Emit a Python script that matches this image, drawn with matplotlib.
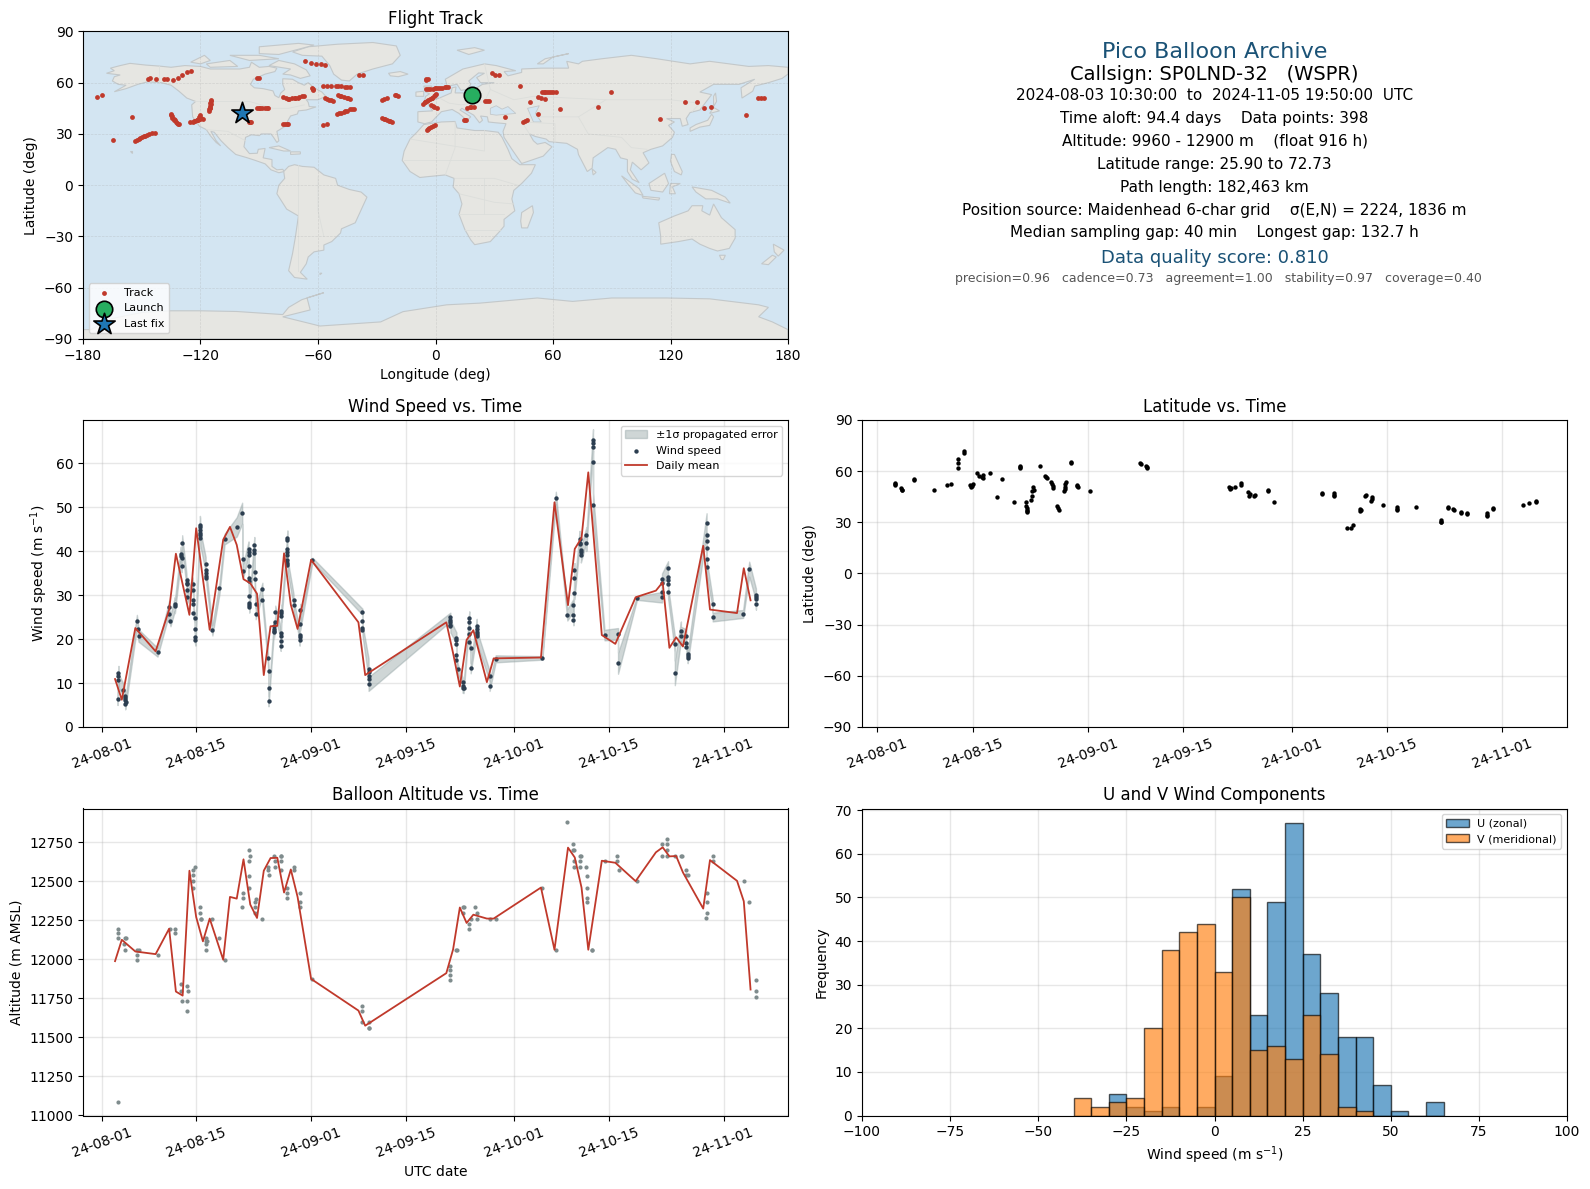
import numpy as np
import pandas as pd
import matplotlib
matplotlib.use("Agg")
import matplotlib.pyplot as plt
import matplotlib.dates as mdates

# ============================
# Data (days are counted from 2024-08-01)
# ============================
start_date = pd.Timestamp("2024-08-01")

track_lon = [-173, -170.4, -154.9, -164.8, -153.3, -151.6, -149.8, -148.1, -146.2, -143.4,
             -147, -145.8, -142.7, -138.7, -137.1, -134, -131.7, -129.4, -127, -124.9,
             -135.2, -134.3, -133.1, -132, -131, -125.4, -123, -121.2, -118.8, -120.5,
             -114.6, -114.8, -115.3, -115.8, -95.4, -94, -91.2, -88.4, -85.3, -91.2, -90,
             -77.8, -74.8, -71.5, -67.3, -63, -62.6, -77.8, -75.5,
             -66.6, -63.7, -60.9, -58.3, -56.2, -39.1, -36.8,
             -57.2, -53.2, -48.5, -43.8, -56.2, -54.4, -52.5, -49.7, -46.9, -43.8,
             -57.2, -55.5, -50.1, -46.9, -43.8, -41.5, -27.4, -25, -22.2, -27.4, -25, -20.8, -19,
             -5.1, -4, -5.1, -0.5, 3.5, 6.6, -6.3, -4, -1.6, 0.3, -2.3, 0.7, -4.4, -2.1, -0.5,
             14.8, 15.7, 16, 19.5, 25.3, 27.2, 28.6, 32.4, 35.4, 43.1, 44.8, 46.9, 48.1, 52.3,
             52.3, 55.8, 54.2, 58.2, 61.7, 63.5, 82.8, 89.6, 114.6, 127.3, 133.4, 137.1, 140.7,
             158.5, 164.8, 167.6,
             -152.5, -150.7, -149, -147.2, -144.8, -134.8, -133.7, -132.5, -131.5, -135, -133.5,
             -124, -122, -120, -119.8, -122, -120.9, -123.5, -121, -114.7, -115, -115.5, -115, -115.2,
             -90, -87, -89.5, -86, -76.5, -73.2, -69.5, -75.5, -72, -70, -68, -76.9, -76,
             -55.2, -51, -46, -50, -45, -55.3, -53.4, -48.3, -45.3, -49, -44.8,
             -48.5, -45.3, -42.6, -49.3, -46, -26, -23.6, -26.5, -23, -26.2, -20,
             -4.6, -3, -1.5, 1.5, 5, -4, 0.5, 2.5, 5.5, -5.2, -3, -0.7, -5.5, -4.5, -2, -0.5, -1.5, -1,
             -3.2, -1.3, -3.8, 15.3, 17.7, 18, 26.2, 30.5, 45.8, 53.9, 56, 60, 55.2, 57, 59, -94.5, -62.8, 166]
track_lat = [51.9, 52.5, 40.2, 26.7, 26.1, 27.1, 28.1, 29, 30, 30.8,
             62.4, 63, 62.4, 62.3, 61.9, 61.7, 62.8, 64.4, 66, 67.1,
             41.5, 39.6, 38, 36.5, 35.7, 37, 37.4, 38.4, 39, 41.2,
             50.1, 47.8, 45.4, 43.3, 37.2, 37.2, 44.9, 44.9, 44.9, 63, 63,
             51.7, 50.7, 51.1, 52.1, 56.6, 55.6, 36.1, 36.1,
             72.4, 71.8, 71.2, 70.7, 70.3, 64.2, 64.2,
             58.3, 58.1, 57.8, 57.2, 51.3, 50.1, 49.4, 52.5, 51.7, 50.5,
             35.1, 35.7, 41.9, 43.1, 44.3, 44.7, 39.4, 38, 37, 50.1, 51.3, 52.9, 52.3,
             61.5, 62.4, 56.4, 56.6, 57, 57.6, 47.8, 49.7, 51.3, 53.3, 46.8, 45.3, 32.2, 34.1, 35.5,
             38.4, 38, 45.3, 46, 49, 49, 65.4, 64.2, 40.2, 58.3, 37.2, 38, 48.8, 41.5,
             51.7, 50.7, 54.8, 54.8, 54.8, 44.3, 46, 54.8, 39, 48.4, 48.4, 45.4, 46,
             41.3, 51.3, 51.3,
             26.6, 27.6, 28.5, 29.5, 30.4, 40.5, 38.8, 37.2, 36, 41, 38.4,
             37.2, 37.9, 38.7, 39.4, 38, 40, 37.5, 39, 49, 46.6, 44.3, 48, 45,
             44.9, 44.9, 44.9, 44.9, 51.2, 50.9, 51.6, 50.6, 50.9, 51.3, 52, 36.1, 36.1,
             58.2, 57.9, 57.5, 58, 57.2, 50.7, 49.7, 52.1, 51.1, 52.3, 50.9,
             42.5, 43.7, 44.5, 42.2, 43.5, 38.7, 37.5, 39, 37.3, 50.7, 52.6,
             62, 56.5, 56.5, 56.8, 57.3, 56.5, 56.7, 56.9, 57.4, 48.7, 50.5, 52.3, 48.5, 49.5, 51, 52.5, 46.3, 46,
             33.2, 34.8, 32.8, 38.2, 45.7, 45.5, 49, 64.7, 37.6, 51.2, 54.8, 54.8, 54.8, 54.8, 54.8, 37.2, 56.1, 51.3]
launch_lon, launch_lat = 18.4, 52.6
last_lon, last_lat = -98.7, 42.4

# wind speed samples
wind_days = [2.37, 2.5, 2.5, 2.5, 3.25, 3.45, 3.5, 3.5, 3.55, 3.5,
             5.23, 5.37, 5.47, 8.28, 10.0, 10.0, 10.2, 10.85, 10.85,
             11.73, 11.73, 11.93, 11.85, 11.85, 12.57, 12.57, 12.57, 12.7, 12.7,
             13.46, 13.6, 13.6, 13.6, 13.6, 13.8, 13.8, 13.8, 13.9,
             14.55, 14.6, 14.6, 14.6, 14.6, 14.6, 15.4, 15.4, 15.4, 15.5, 15.5,
             16.4, 17.45, 18.2, 20.0, 20.8, 20.86, 20.95,
             21.75, 21.75, 21.75, 21.75, 21.75, 21.75, 21.85, 21.85, 21.85, 21.85,
             22.6, 22.6, 22.6, 22.65, 22.65, 22.8, 22.8, 23.8, 23.8,
             24.6, 24.7, 24.7, 24.7, 25.5, 25.5, 25.5, 25.5, 25.7, 25.7,
             26.5, 26.5, 26.5, 26.5, 26.6, 26.6, 26.6,
             27.5, 27.5, 27.5, 27.5, 27.5, 27.5, 27.5, 27.5, 28.4, 28.4,
             29.4, 29.4, 29.3, 29.3, 29.3, 31.2, 38.6, 38.6, 38.6, 38.6,
             39.5, 39.5, 39.5, 39.5, 39.5,
             51.6, 51.6, 51.6, 51.6, 51.6, 52.5, 52.5, 52.5, 52.5, 52.5, 52.7,
             53.4, 53.4, 53.4, 53.55, 54.4, 54.4, 54.4, 54.4, 54.4, 54.6, 54.6,
             55.5, 55.5, 55.5, 55.5, 55.5, 57.4, 57.4, 58.3, 65.2, 67.2, 68.9,
             69.8, 69.8, 69.8, 69.95, 69.95, 69.95, 70.7, 70.7, 70.7, 70.9, 70.9, 70.9,
             71.7, 71.7, 72.7, 72.7, 72.7, 72.7, 72.7, 74.4, 76.4, 76.4, 79.2,
             82.9, 82.9, 82.9, 82.9, 83.8, 83.8, 83.8, 83.8, 83.8, 84.8, 84.8,
             85.7, 85.7, 86.5, 86.5, 86.5, 86.7, 86.7, 86.7,
             89.5, 89.5, 89.5, 89.5, 89.5, 89.5, 90.4, 90.4, 94.9, 95.8,
             96.8, 96.8, 96.8, 96.8]
wind_speed = [6.4, 12.3, 11.5, 10.6, 8.3, 7.1, 6.6, 6.1, 5.6, 5.2,
              24.0, 22.3, 20.8, 17.0, 27.2, 25.7, 24.2, 28.0, 27.4,
              39.4, 38.8, 41.8, 38.4, 36.7, 33.4, 32.7, 31.1, 32.6, 29.5,
              32.6, 31.1, 28.9, 28.0, 25.9, 24.8, 22.3, 20.4, 19.7,
              46.0, 45.5, 44.8, 44.2, 43.6, 43.0, 37.0, 35.8, 35.0, 34.4, 33.9,
              22.0, 31.6, 42.7, 45.5, 48.6, 38.2, 35.5,
              40.5, 39.9, 39.2, 36.7, 33.9, 33.3, 29.8, 28.3, 27.8, 27.3,
              41.4, 40.3, 39.5, 35.2, 33.6, 28.0, 25.8, 31.4, 28.9,
              15.7, 12.7, 8.9, 5.9, 22.9, 22.3, 21.9, 21.5, 23.9, 26.2,
              21.4, 20.6, 19.5, 18.5, 26.4, 25.9, 25.3,
              42.9, 42.6, 40.5, 39.7, 39.1, 38.0, 37.4, 36.9, 28.9, 27.8,
              26.7, 23.4, 21.0, 20.5, 19.7, 38.0, 26.2, 24.2, 22.5, 22.1,
              13.2, 12.4, 11.7, 10.8, 9.8,
              25.0, 24.4, 23.8, 23.3, 22.9, 20.2, 19.7, 18.9, 16.4, 15.2, 13.2,
              10.2, 9.4, 8.9, 8.8, 24.8, 23.9, 22.4, 21.2, 19.3, 18.0, 13.4,
              22.9, 22.3, 21.7, 21.1, 20.6, 11.6, 9.4, 15.5, 15.7, 52.1, 25.5,
              27.7, 25.4, 24.4, 35.8, 33.9, 30.5, 42.7, 41.8, 41.5, 40.3, 39.7, 39.1,
              43.6, 41.8, 65.3, 64.5, 63.6, 60.2, 50.4, 20.9, 21.2, 14.5, 29.3,
              29.5, 30.7, 32.7, 33.6, 36.1, 34.2, 33.5, 32.5, 30.6, 18.9, 12.3,
              21.8, 20.8, 20.6, 19.2, 18.2, 16.7, 16.2, 15.8,
              46.4, 43.6, 42.3, 40.8, 38.2, 36.4, 28.0, 25.0, 25.7, 35.9,
              30.1, 29.5, 29.1, 28.0]
wind_sigma = [1.4, 1.6, 1.5, 1.5, 1.5, 1.4, 1.3, 1.3, 1.2, 1.2,
              1.5, 1.4, 1.4, 1.0, 1.5, 1.4, 1.3, 1.6, 1.5,
              1.6, 1.6, 1.8, 1.5, 1.5, 1.4, 1.4, 1.3, 1.4, 1.3,
              1.4, 1.3, 1.3, 1.3, 1.2, 1.2, 1.2, 1.2, 1.2,
              2.0, 2.0, 1.9, 1.9, 1.8, 1.8, 1.7, 1.6, 1.6, 1.5, 1.5,
              1.2, 1.3, 1.2, 2.2, 2.4, 1.7, 1.6,
              1.7, 1.7, 1.6, 1.6, 1.5, 1.5, 1.4, 1.4, 1.3, 1.3,
              1.8, 1.8, 1.7, 1.6, 1.5, 1.4, 1.3, 1.4, 1.3,
              1.3, 1.3, 1.2, 1.2, 1.4, 1.3, 1.3, 1.3, 1.4, 1.4,
              1.3, 1.3, 1.2, 1.2, 1.4, 1.4, 1.3,
              1.8, 1.8, 1.7, 1.7, 1.6, 1.6, 1.6, 1.5, 1.4, 1.3,
              1.3, 1.3, 1.2, 1.2, 1.2, 0.5, 0.7, 1.4, 1.3, 1.3,
              2.4, 2.2, 2.0, 1.8, 1.6,
              1.0, 1.2, 1.4, 1.4, 1.4, 1.3, 1.3, 1.2, 1.2, 1.2, 1.1,
              1.1, 1.1, 1.1, 1.1, 1.5, 1.4, 1.4, 1.3, 1.3, 1.3, 1.2,
              1.7, 1.6, 1.6, 1.5, 1.5, 1.2, 1.2, 0.8, 0.4, 1.4, 1.3,
              1.4, 1.3, 1.3, 1.5, 1.5, 1.4, 1.9, 1.9, 1.8, 1.8, 1.7, 1.7,
              1.8, 1.8, 2.4, 2.4, 2.3, 2.3, 2.8, 1.2, 1.3, 2.4, 0.4,
              1.2, 1.3, 1.3, 1.3, 1.6, 1.5, 1.5, 1.4, 1.4, 1.8, 2.8,
              2.2, 2.0, 1.6, 1.5, 1.4, 1.3, 1.3, 1.3,
              2.2, 2.1, 2.0, 2.0, 1.9, 1.8, 1.2, 1.0, 0.9, 1.7,
              1.4, 1.4, 1.3, 1.3]

wind_mean_days = [2, 3, 5, 8, 10, 11, 13, 14, 16, 18, 19, 20, 21, 22, 23, 24, 25, 26, 27, 28, 29,
                  31, 38, 39, 51, 52, 53, 54, 55, 57, 58, 65, 67, 69, 70, 71, 72, 74, 76, 79,
                  82, 83, 84, 85, 86, 89, 90, 94, 95, 96]
wind_mean = [10.9, 6.2, 22.5, 17.2, 26.7, 39.4, 25.5, 45.2, 22.1, 42.6, 45.5, 41.4, 33.6, 32.7, 30.3,
             11.8, 22.9, 23.0, 39.5, 27.8, 22.3, 38.0, 23.8, 11.8, 23.8, 16.8, 9.2, 19.8, 22.0,
             10.2, 15.6, 15.8, 51.1, 27.7, 40.5, 43.0, 57.9, 20.9, 18.9, 29.5, 31.0, 32.9, 18.0,
             20.4, 18.3, 41.2, 26.7, 25.9, 36.1, 28.8]

# latitude samples
lat_days = [2.57, 2.6, 3.55, 3.49, 5.4, 8.3, 10.2, 10.9, 11.9, 11.8, 11.8, 12.8, 12.8,
            13.6, 13.9, 14.7, 14.9, 15.5, 15.6, 16.5, 18.3, 17.6, 20.1, 21.0, 21.0,
            21.9, 21.9, 22.0, 22.0, 23.9, 22.9, 22.8, 22.8, 22.6, 24.7, 24.9,
            25.6, 25.8, 25.9, 26.5, 26.8, 27.7, 27.6, 27.5, 28.5, 29.4, 29.5, 31.25,
            38.7, 39.7, 51.7, 51.9, 52.7, 53.6, 54.6, 54.7, 55.5, 57.5, 58.4,
            65.5, 67.2, 67.2, 69.1, 69.8, 70.1, 71.1, 71.0, 71.8, 72.8, 72.7,
            74.4, 76.5, 79.3, 83.0, 83.0, 84.0, 84.8, 85.9, 86.8, 89.7, 89.7, 90.6,
            95.1, 96.0, 97.0,
            5.45, 3.6, 13.7, 14.0, 15.4, 28.5, 38.8, 39.7, 39.6, 2.6, 21.0, 52.0, 53.5, 54.8,
            55.6, 57.5, 65.5, 67.2, 71.2, 71.9, 72.8, 76.5, 76.5, 83.0, 84.0, 84.9, 86.0, 86.8,
            89.7, 90.6, 97.0, 27.6, 27.55, 29.45, 23.0, 22.0, 21.95, 24.8, 25.7, 26.6]
lat_values = [52.6, 51.9, 49.1, 49.9, 55.3, 48.9, 51.6, 52.4, 67.0, 64.7, 61.8, 72.1, 70.5,
              51.8, 51.4, 59.2, 57.3, 56.1, 57.5, 58.8, 55.3, 44.8, 41.9, 63.1, 61.8,
              41.7, 39.3, 37.4, 35.8, 63.3, 50.6, 48.1, 45.6, 43.2, 57.3, 55.9,
              53.4, 51.4, 50.3, 39.3, 37.4, 53.4, 51.0, 48.3, 64.9, 52.0, 50.8, 48.3,
              64.7, 62.5, 51.0, 49.5, 50.6, 52.8, 47.7, 45.6, 45.6, 48.9, 41.9,
              46.5, 46.0, 47.1, 26.7, 26.7, 28.6, 38.0, 36.8, 45.4, 44.8, 42.3,
              40.1, 38.0, 38.9, 30.4, 31.4, 39.1, 37.6, 36.2, 35.4, 35.4, 33.5, 38.4,
              40.1, 41.5, 42.3,
              54.9, 48.9, 51.0, 52.2, 56.6, 65.3, 64.3, 61.9, 63.0, 53.2, 62.5, 50.0, 52.0, 46.5,
              46.0, 48.3, 47.0, 45.5, 37.5, 46.0, 43.5, 37.0, 38.7, 30.0, 38.5, 37.0, 35.7, 34.9,
              34.4, 37.9, 41.7, 52.3, 49.5, 51.5, 49.0, 38.5, 36.5, 56.6, 52.5, 38.3]

# altitude samples
alt_days = [2.37, 2.5, 2.5, 2.5, 3.4, 3.6, 3.35, 3.4, 5.2, 5.5, 5.3, 5.2, 8.3, 10.2, 10.85, 10.85,
            11.7, 11.7, 11.9, 12.6, 12.7, 12.8, 12.6, 13.8, 13.6, 13.6, 13.6, 13.5,
            14.5, 14.5, 14.65, 14.75, 15.5, 15.5, 15.5, 15.4, 15.6, 16.4, 17.45, 18.2,
            20.8, 20.9, 20.86, 21.75, 21.9, 21.75, 21.75, 21.75, 22.9, 22.7, 22.7, 22.7, 23.8,
            24.6, 24.65, 24.7, 25.5, 25.6, 25.6, 26.5, 26.6, 26.5, 26.5,
            27.5, 27.5, 27.5, 28.4, 28.4, 29.3, 29.4, 29.4, 31.2,
            38.6, 38.6, 38.6, 39.5, 39.5, 39.6,
            51.6, 51.6, 51.6, 51.5, 52.5, 52.65, 53.4, 53.6, 53.4,
            54.4, 54.4, 54.6, 55.3, 55.5, 55.5, 57.4, 58.3, 65.2, 67.2, 68.9,
            69.8, 69.8, 69.95, 69.9, 69.9, 70.7, 70.9, 70.7, 70.7,
            71.6, 71.8, 71.8, 71.8, 71.8, 72.5, 72.6, 74.4, 76.3, 76.3, 76.5, 79.2,
            82.9, 82.9, 83.7, 83.7, 83.7, 83.7, 84.8, 85.7, 85.85, 86.5, 86.7, 86.5,
            89.5, 89.5, 89.5, 89.4, 90.4, 90.5, 94.96, 95.8, 96.8, 96.8, 96.8]
alt_values = [11083, 12196, 12171, 12138, 12138, 12138, 12100, 12061, 12061, 12061, 12029, 11997, 12029,
              12196, 12196, 12171,
              11842, 11795, 11733, 11733, 11829, 11797, 11668, 12595, 12570, 12538, 12499, 12460,
              12338, 12299, 12261, 12261, 12138, 12100, 12061, 12115, 12115, 12261, 12138, 11997,
              12338, 12428, 12396, 12698, 12660, 12628, 12531, 12460, 12389, 12370, 12338, 12299, 12261,
              12595, 12570, 12538, 12660, 12628, 12595, 12660, 12660, 12628, 12570,
              12460, 12428, 12396, 12595, 12570, 12428, 12370, 12338, 11874,
              11701, 11668, 11595, 11595, 11559, 11559,
              11958, 11932, 11900, 11868, 12061, 12061, 12338, 12338, 12299,
              12228, 12196, 12261, 12338, 12299, 12261, 12261, 12261, 12460, 12061, 12879,
              12737, 12698, 12698, 12628, 12595, 12660, 12660, 12628, 12595,
              12595, 12531, 12460, 12396, 12370, 12061, 12061, 12628, 12660, 12628, 12570, 12501,
              12737, 12660, 12769, 12737, 12698, 12660, 12660, 12660, 12660, 12570, 12538, 12538,
              12428, 12370, 12299, 12267, 12660, 12628, 12499, 12370, 11868, 11797, 11759]

alt_mean_days = [2, 3, 5, 8, 10, 11, 12, 13, 14, 15, 16, 18, 19, 20, 21, 22, 23, 24, 25, 26, 27, 28, 29,
                 31, 38, 39, 51, 52, 53, 54, 55, 57, 58, 65, 67, 69, 70, 71, 72, 74, 76, 79,
                 82, 83, 84, 85, 86, 89, 90, 94, 95, 96]
alt_mean = [11988, 12125, 12050, 12033, 12196, 11793, 11767, 12568, 12271, 12115, 12261, 11997, 12400,
            12389, 12641, 12351, 12265, 12568, 12649, 12651, 12428, 12576, 12400, 11874, 11671, 11574,
            11911, 12063, 12332, 12233, 12286, 12261, 12261, 12460, 12061, 12716, 12653, 12460, 12061,
            12632, 12619, 12501, 12686, 12718, 12660, 12662, 12557, 12325, 12636, 12503, 12372, 11806]

# histogram, 5 m/s bins from -40 to 65
hist_edges = [-40, -35, -30, -25, -20, -15, -10, -5, 0, 5, 10, 15, 20, 25, 30, 35, 40, 45, 50, 55, 60, 65]
u_counts = [0, 0, 5, 2, 1, 2, 0, 2, 9, 52, 23, 49, 67, 37, 28, 18, 18, 7, 1, 0, 3]
v_counts = [4, 2, 3, 4, 20, 38, 42, 44, 33, 50, 15, 16, 13, 23, 14, 2, 1, 0, 0, 0, 0]

# rough coastlines (lon, lat)
land_shapes = [
    [(-168, 65.5), (-164, 67), (-166, 68.5), (-161, 70), (-156, 71.3), (-148, 70.3), (-141, 69.7), (-135, 69),
     (-128, 70), (-120, 69.5), (-115, 68), (-108, 68), (-100, 68), (-95, 69), (-94, 72), (-90, 69), (-85, 69.5),
     (-81, 68.5), (-82, 66.5), (-87, 65), (-93, 62), (-94.5, 59), (-92.5, 57), (-88, 56.5), (-83, 55.2), (-82, 52.5),
     (-80, 51.2), (-79, 54), (-77, 56), (-78, 59), (-78, 62.3), (-73, 62), (-70, 60), (-67, 58.5), (-65, 60), (-62, 57),
     (-58, 54.5), (-56, 52), (-60, 50), (-66, 50), (-65, 48.5), (-64.5, 46), (-61, 45.8), (-66, 44), (-70, 43.5),
     (-70.5, 41.7), (-74, 40.5), (-75.5, 37.5), (-76, 35), (-81, 31.5), (-80, 26), (-81, 25), (-82.7, 28), (-84, 30),
     (-89, 30), (-90, 29), (-94, 29.5), (-97, 28), (-97.8, 22.5), (-95, 18.5), (-91, 18.7), (-90.5, 21), (-87, 21.5),
     (-88, 16), (-83.5, 15), (-83.5, 11), (-81, 9), (-78, 9.3), (-77.3, 8), (-80, 7.3), (-84, 9), (-87, 12.5),
     (-92, 14.5), (-96, 16), (-102, 18), (-106, 22), (-109.5, 26), (-113, 31), (-114.7, 31.5), (-112, 26),
     (-109.7, 23), (-112, 25), (-115, 29), (-117, 32.5), (-120.5, 34.5), (-124, 40), (-124.5, 47), (-122.5, 49),
     (-127, 51), (-131, 55), (-135, 58.5), (-140, 60), (-147, 60.5), (-152, 59), (-158, 56.5), (-164, 54.7),
     (-158, 58.5), (-162, 59), (-165, 61), (-164, 63.5), (-161, 64.5)],
    # Greenland and Arctic Canada
    [(-73, 78), (-65, 81), (-50, 82.5), (-32, 83.5), (-20, 81.5), (-18, 76), (-22, 71), (-32, 68), (-40, 65),
     (-44, 61), (-48, 61.5), (-52, 65), (-54, 70), (-58, 75.5), (-68, 76)],
    [(-80, 73), (-72, 71), (-66, 67.5), (-64, 64), (-69, 62.5), (-74, 64.5), (-78, 65), (-74, 68), (-85, 70)],
    [(-117, 71), (-105, 73), (-101, 69.5), (-115, 69)],
    [(-90, 77), (-80, 76.5), (-62, 82), (-70, 83), (-90, 81)],
    [(-125, 72), (-118, 76), (-115, 73), (-120, 71)],
    [(-105, 76), (-90, 76), (-80, 74), (-95, 73)],
    # South America
    [(-77.5, 8), (-75, 11), (-72, 12), (-68, 11), (-62, 10.5), (-57, 6), (-51, 4), (-50, 0), (-44, -2.5), (-38, -4),
     (-35, -7), (-37, -12), (-39, -17), (-41, -22), (-48, -25.5), (-48.5, -28), (-53, -33), (-57, -35), (-57, -38),
     (-62, -39), (-65, -42), (-66, -46), (-69, -51), (-65.5, -55), (-72, -54), (-75, -50), (-73, -40), (-71.5, -30),
     (-70, -18), (-76, -14), (-81, -5), (-80, 0), (-77, 4)],
    # Africa
    [(-6, 35.5), (3, 37), (10, 37.3), (11, 33.5), (20, 32), (25, 32), (32, 31), (34, 28), (37, 21), (39, 15.5),
     (43, 12), (51, 12), (49, 7), (44, 1), (40, -3), (39, -8), (40.5, -15), (35, -20), (35, -24), (32.8, -27),
     (28, -33), (20, -34.8), (18, -32), (15, -26), (12, -17), (13.5, -11), (12, -5), (9, -1), (9.5, 4), (5, 6),
     (-4, 5), (-8, 4.5), (-13, 8), (-17, 14.5), (-16, 20), (-13, 27), (-9.5, 31)],
    # Eurasia
    [(-9, 37), (-9, 43), (-1.5, 43.5), (-4.5, 48.5), (2, 51), (8, 54), (8.5, 57), (10.5, 57.5), (10, 54), (14, 54),
     (19, 54.5), (21, 57), (24, 59), (30, 60), (23, 60), (21, 63), (25, 65.5), (22, 65.7), (17, 61), (18, 59), (16, 56),
     (13, 55.5), (11, 59), (6, 58), (5, 62), (14, 68), (25, 71), (31, 70), (41, 67), (35, 66.5), (37, 64), (44, 66),
     (44, 68), (54, 68.5), (68, 68.5), (67, 72.5), (73, 71), (75, 72.5), (85, 74), (100, 76), (113, 74), (130, 71),
     (140, 72.5), (160, 69.5), (170, 70), (180, 69), (180, 65), (177, 62.5), (170, 60), (163, 58), (162, 55),
     (156.5, 51), (156, 57), (163, 62), (155, 59), (142, 59), (135, 54.5), (141, 53), (135, 44), (130, 42.5), (128, 39),
     (129, 35.5), (126, 34.5), (125, 39), (121, 39), (118, 39), (122, 37), (119, 35), (122, 31), (121, 28), (116, 23),
     (110, 21), (106, 19), (109, 13), (105, 9), (100.5, 13.5), (99.5, 9), (103, 3), (104, 1.5), (100.5, 3.5), (98, 8),
     (98, 15), (94.5, 16), (92, 21), (88, 22), (80.5, 16), (80, 10), (77.5, 8), (73, 18), (72.5, 21), (67, 24.5),
     (58, 25.5), (56.5, 27), (51, 28.5), (48, 30), (50, 26), (52, 24), (56, 25), (59.5, 22.5), (55, 17), (44, 12.7),
     (42, 16), (39, 21), (35, 28), (34.5, 31.5), (36, 36), (31, 36.5), (27, 37), (26.5, 40), (23, 40.5), (24, 38),
     (22.5, 36.5), (19.5, 41), (13.5, 45), (12.5, 44), (16, 41.5), (18, 40), (16, 38), (12, 42), (8.5, 44.3), (3, 43),
     (0, 39.5), (-2, 37), (-5.5, 36)],
    # islands
    [(-5.5, 50), (1, 51), (1.5, 53), (-2, 56), (-2, 58), (-6, 58), (-5, 54.5), (-3, 53.5), (-5, 52)],
    [(-10, 52), (-6, 52), (-6, 55), (-10, 54.5)],
    [(-24, 65.5), (-18, 66.5), (-14, 65), (-19, 63.5), (-23, 64)],
    [(130, 31.5), (135, 34), (140, 35), (142, 40), (141, 41.5), (139, 38), (133, 35.5), (130, 33.5)],
    [(140, 42), (145, 43.5), (142, 45.5)],
    [(142, 46), (143.5, 49), (143, 54), (142, 52)],
    [(44, -16), (49.5, -12), (50, -16), (47, -25), (44, -25), (43.5, -21)],
    [(80, 9.5), (82, 7.5), (80.5, 6)],
    [(95, 5.5), (104, -2), (106, -6), (102, -4.5), (98, 1)],
    [(109, 1), (117, 7), (119, 1), (116, -4), (110, -3)],
    [(105.5, -6.5), (114.5, -7.5), (114, -8.7), (106, -7.5)],
    [(119.5, -5), (120, 1), (125, 1), (121, -1), (122.5, -5)],
    [(131, -1), (141, -3), (148, -7), (150.5, -10.5), (144, -8), (138, -8), (133, -4)],
    [(120.5, 18), (122, 18), (124, 13), (126, 8), (125.5, 6), (122, 8), (120, 14)],
    [(114, -22), (122, -18), (129, -15), (131, -12), (136.5, -12), (136, -15), (140, -17.5), (142, -11), (146, -19),
     (153, -26), (153, -31), (150, -37), (144, -38.5), (140, -37), (135, -34.5), (131, -31.5), (124, -33), (115, -34.5),
     (115, -30)],
    [(145, -41), (148, -41), (147, -43.5), (146, -43.5)],
    [(172.5, -34.5), (178, -38), (175, -41.5), (173, -39)],
    [(172, -41), (174, -42), (170, -46.5), (166.5, -46)],
    [(-85, 22), (-80, 23), (-74, 20), (-77.5, 20)],
    [(-74, 19.5), (-69, 19.5), (-69, 18.3), (-74, 18)],
    [(-156, 20), (-155, 20), (-155, 19)],
    [(52, 71), (56, 74), (68, 77), (60, 75), (55, 71)],
    [(11, 79), (20, 80.5), (25, 79), (17, 76.5)],
    [(-59, -51.5), (-58, -51.5), (-59, -52.3)],
    # Antarctica
    [(-180, -84.5), (-176, -84.5), (-165, -78), (-150, -74.5), (-135, -73.5), (-120, -73.5), (-101.5, -73.9),
     (-78, -75.7), (-75, -71.5), (-68.3, -67), (-57, -62.9), (-65.6, -65.9), (-64, -73), (-78, -77), (-59, -82.4),
     (-28, -80), (-16.6, -74), (5.7, -70), (22.7, -69), (52, -66), (70, -68), (90, -66), (118, -66), (140, -66.5),
     (165, -70), (170, -71.5), (165, -77), (172, -80), (180, -84.5), (180, -90), (-180, -90)],
]
water_shapes = [
    [(28, 41.5), (28, 45), (31, 46.5), (34, 44.5), (37, 46), (41, 42), (36, 41.5), (31, 41)],
    [(47, 45), (53, 46.5), (51, 42), (54, 37), (50, 37), (48.5, 41)],
]
border_lines = [
    [(-123, 49), (-95, 49), (-83, 45), (-75, 45), (-67, 47)],
    [(-141, 69.7), (-141, 60)],
    [(-117, 32.5), (-106, 31.5), (-97, 26)],
    [(-70, 12), (-70, -18)], [(-60, 5), (-60, -15), (-57, -30)], [(-70, -18), (-70, -50)],
    [(-13, 27), (25, 20), (25, 32)], [(-16, 15), (38, 15)], [(10, 4), (30, 4), (42, 0)], [(12, -5), (30, -10), (40, -11)],
    [(12, -17), (35, -17)], [(15, -26), (33, -26)], [(25, 4), (25, -17)], [(5, 6), (10, 22), (10, 37)],
    [(25, 71), (28, 56), (40, 50), (50, 52), (87, 50), (120, 50), (135, 48), (131, 43)],
    [(50, 40), (73, 40), (80, 45), (87, 50)], [(73, 40), (78, 30), (95, 28), (100, 22), (108, 21)],
    [(48, 30), (44, 37), (61, 36), (61, 25)], [(35, 30), (48, 30)], [(2, 51), (7, 48), (13, 47), (25, 49), (28, 56)],
]

# ============================
# Figure layout (pixel boxes of the panels)
# ============================
fig_w, fig_h = 1590, 1189
fig = plt.figure(figsize=(fig_w / 100, fig_h / 100), dpi=100)


def add_panel(left, top, right, bottom):
    return fig.add_axes([left / fig_w, 1 - bottom / fig_h, (right - left) / fig_w, (bottom - top) / fig_h])


ax_map = add_panel(83, 31.4, 788, 339)
ax_info = add_panel(862, 31.4, 1567, 339)
ax_wind = add_panel(83, 420, 788, 727)
ax_lat = add_panel(862, 420, 1567, 727)
ax_alt = add_panel(83, 808.5, 788, 1115.5)
ax_hist = add_panel(862, 808.5, 1567, 1115.5)

RED = "#c0392b"
BLUE = "#1a5276"
GRID = dict(color="#b0b0b0", alpha=0.3, linewidth=1.0)


def to_dates(days):
    return start_date + pd.to_timedelta(np.asarray(days, dtype=float), unit="D")


def date_axis(ax, first_day, last_day):
    ax.set_xlim(to_dates([first_day])[0], to_dates([last_day])[0])
    ax.xaxis.set_major_locator(mdates.DayLocator(bymonthday=[1, 15]))
    ax.xaxis.set_major_formatter(mdates.DateFormatter("%y-%m-%d"))
    ax.tick_params(axis="x", rotation=20)
    ax.grid(True, **GRID)
    ax.set_axisbelow(True)


# ============================
# 1. Flight track map
# ============================
ax_map.set_facecolor("#d3e5f2")
for shape in land_shapes:
    xs, ys = zip(*shape)
    ax_map.fill(xs, ys, facecolor="#e6e6e2", edgecolor="#c3c8ca", linewidth=0.8, zorder=1)
for shape in water_shapes:
    xs, ys = zip(*shape)
    ax_map.fill(xs, ys, facecolor="#d3e5f2", edgecolor="#c3c8ca", linewidth=0.6, zorder=1.1)
for line in border_lines:
    xs, ys = zip(*line)
    ax_map.plot(xs, ys, color="#dcdedb", linewidth=0.6, zorder=1.2)
ax_map.scatter(track_lon, track_lat, s=12, linewidths=0, color=RED, label="Track", zorder=3)
ax_map.scatter([launch_lon], [launch_lat], s=140, color="#27ae60", edgecolor="black", linewidth=1.2,
               label="Launch", zorder=4)
ax_map.scatter([last_lon], [last_lat], s=260, marker="*", color="#1f77b4", edgecolor="black", linewidth=1.2,
               label="Last fix", zorder=4)
ax_map.set_xlim(-180, 180)
ax_map.set_ylim(-90, 90)
ax_map.set_xticks(np.arange(-180, 181, 60))
ax_map.set_yticks(np.arange(-90, 91, 30))
ax_map.grid(True, color="#a0a0a0", alpha=0.3, linewidth=0.5, linestyle="--", zorder=2)
ax_map.set_xlabel("Longitude (deg)")
ax_map.set_ylabel("Latitude (deg)")
ax_map.set_title("Flight Track", pad=5)
ax_map.legend(loc="lower left", fontsize=8)

# ============================
# 2. Text summary panel
# ============================
ax_info.axis("off")
info_lines = [
    (0.934, 0.5, "Pico Balloon Archive", 16, BLUE),
    (0.859, 0.5, "Callsign: SP0LND-32   (WSPR)", 14, "black"),
    (0.792, 0.5, "2024-08-03 10:30:00  to  2024-11-05 19:50:00  UTC", 11, "black"),
    (0.717, 0.5, "Time aloft: 94.4 days    Data points: 398", 11, "black"),
    (0.644, 0.5, "Altitude: 9960 - 12900 m    (float 916 h)", 11, "black"),
    (0.566, 0.5, "Latitude range: 25.90 to 72.73", 11, "black"),
    (0.492, 0.5, "Path length: 182,463 km", 11, "black"),
    (0.417, 0.5, "Position source: Maidenhead 6-char grid    σ(E,N) = 2224, 1836 m", 11, "black"),
    (0.345, 0.5, "Median sampling gap: 40 min    Longest gap: 132.7 h", 11, "black"),
    (0.262, 0.5, "Data quality score: 0.810", 13, BLUE),
    (0.198, 0.506, "precision=0.96   cadence=0.73   agreement=1.00   stability=0.97   coverage=0.40", 9, "#555555"),
]
for y, x, text, size, color in info_lines:
    ax_info.text(x, y, text, fontsize=size, color=color, ha="center", va="center", transform=ax_info.transAxes)

# ============================
# 3. Wind speed vs. time
# ============================
order = np.argsort(wind_days, kind="stable")
wind_t = to_dates(np.array(wind_days)[order])
wind_v = np.array(wind_speed)[order]
wind_s = np.array(wind_sigma)[order]
ax_wind.fill_between(wind_t, wind_v - wind_s, wind_v + wind_s, color="#95a5a6", alpha=0.45,
                     label="±1σ propagated error")
ax_wind.scatter(to_dates(wind_days), wind_speed, s=10, linewidths=0, color="#2c3e50", label="Wind speed", zorder=3)
ax_wind.plot(to_dates(wind_mean_days), wind_mean, color=RED, linewidth=1.3, label="Daily mean", zorder=4)
date_axis(ax_wind, -2.74, 101.54)
ax_wind.set_ylim(0, 69.8)
ax_wind.set_ylabel("Wind speed (m s$^{-1}$)")
ax_wind.set_title("Wind Speed vs. Time")
ax_wind.legend(loc="upper right", fontsize=8)

# ============================
# 4. Latitude vs. time
# ============================
ax_lat.scatter(to_dates(lat_days), lat_values, s=10, linewidths=0, color="black", zorder=3)
date_axis(ax_lat, -2.28, 101.55)
ax_lat.set_ylim(-90, 90)
ax_lat.set_yticks(np.arange(-90, 91, 30))
ax_lat.set_ylabel("Latitude (deg)")
ax_lat.set_title("Latitude vs. Time")

# ============================
# 5. Altitude vs. time
# ============================
ax_alt.scatter(to_dates(alt_days), alt_values, s=9, linewidths=0, color="#7f8c8d", zorder=3)
ax_alt.plot(to_dates(alt_mean_days), alt_mean, color=RED, linewidth=1.3, zorder=4)
date_axis(ax_alt, -2.74, 101.54)
ax_alt.set_ylim(10998, 12967)
ax_alt.set_yticks(np.arange(11000, 12751, 250))
ax_alt.set_xlabel("UTC date")
ax_alt.set_ylabel("Altitude (m AMSL)")
ax_alt.set_title("Balloon Altitude vs. Time")

# ============================
# 6. U / V histogram
# ============================
ax_hist.bar(hist_edges[:-1], u_counts, width=5, align="edge", color="#1f77b4", edgecolor="black", alpha=0.65,
            label="U (zonal)", zorder=2)
ax_hist.bar(hist_edges[:-1], v_counts, width=5, align="edge", color="#ff7f0e", edgecolor="black", alpha=0.65,
            label="V (meridional)", zorder=3)
ax_hist.set_xlim(-100, 100)
ax_hist.set_ylim(0, 70.4)
ax_hist.set_xticks(np.arange(-100, 101, 25))
ax_hist.set_yticks(np.arange(0, 71, 10))
ax_hist.grid(True, **GRID)
ax_hist.set_axisbelow(True)
ax_hist.set_xlabel("Wind speed (m s$^{-1}$)")
ax_hist.set_ylabel("Frequency")
ax_hist.set_title("U and V Wind Components")
ax_hist.legend(loc="upper right", fontsize=8)

fig.savefig("out.png", dpi=100)
